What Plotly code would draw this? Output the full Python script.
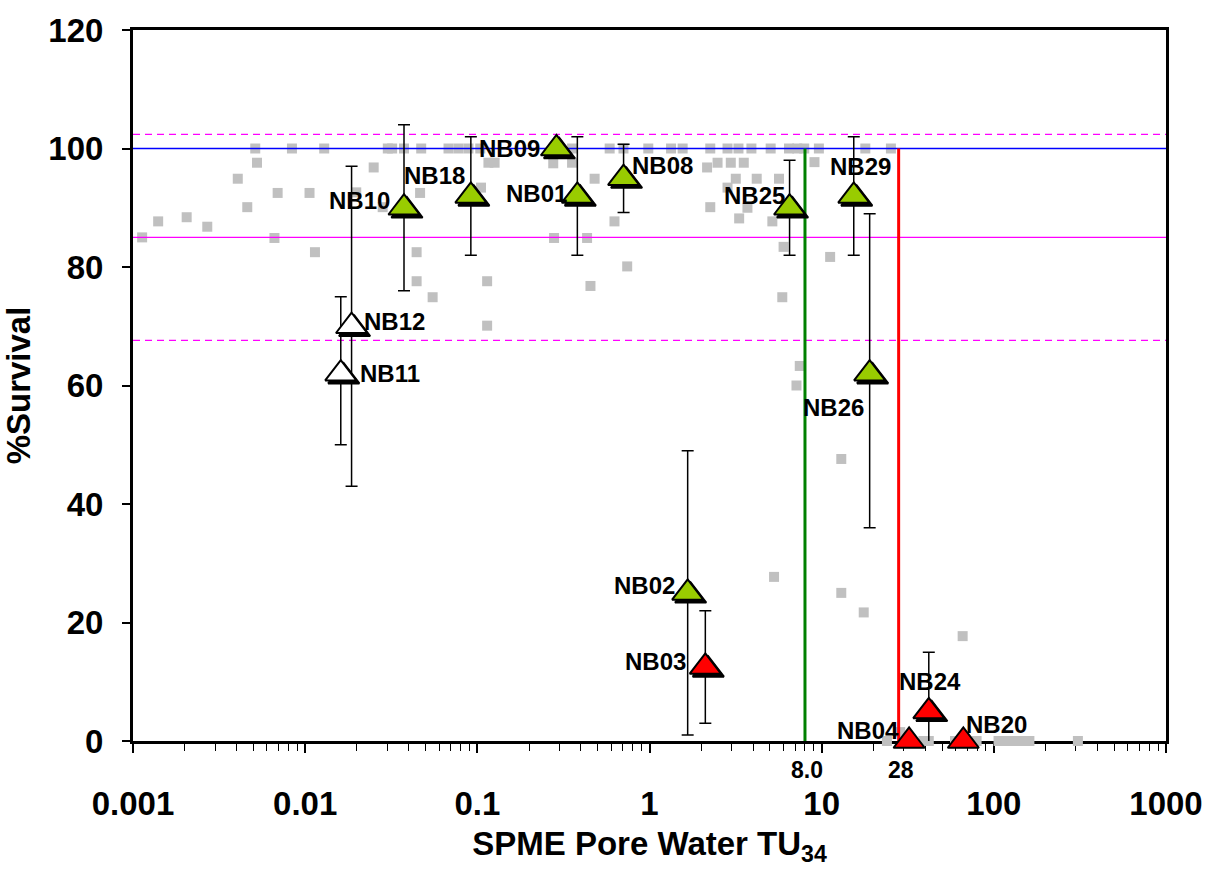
import numpy as np
import plotly.graph_objects as go

# ---------------- data ----------------
gray_x = [0.00113, 0.0014, 0.00205, 0.0027, 0.00406, 0.00461, 0.00513, 0.00525, 0.00692, 0.00663,
          0.00838, 0.0106, 0.0114, 0.0129, 0.0198, 0.0250, 0.0282, 0.0302, 0.0320, 0.0375,
          0.0472, 0.0465, 0.0444, 0.0444, 0.055, 0.068, 0.0777, 0.0888, 0.104, 0.105,
          0.114, 0.114, 0.116, 0.126, 0.279, 0.434, 0.454, 0.48, 0.626, 0.742,
          0.276, 0.355, 0.355, 0.587, 0.706, 0.984, 1.334, 1.558, 2.254, 2.839,
          3.287, 3.908, 5.055, 6.459, 7.215, 7.921, 9.634, 17.93, 25.25, 2.16,
          2.485, 2.966, 3.528, 3.171, 4.195, 5.653, 2.839, 2.254, 3.317, 3.706,
          5.171, 6.009, 5.906, 7.46, 7.14, 9.084, 11.2, 13.0, 5.29, 13.0,
          17.55, 65.9, 23.94, 28.6, 39.0, 41.9, 59.5, 79.4, 106.5, 118.5,
          131.8, 146.6, 160.9, 307.8]
gray_y = [85, 87.7, 88.4, 86.8, 94.9, 90.1, 100, 97.6, 92.5, 84.9,
          100, 92.5, 82.5, 100, 92.6, 96.8, 90.1, 100, 100, 100,
          100, 92.5, 82.5, 77.6, 74.9, 100, 100, 100, 100, 93.4,
          77.6, 70.1, 97.6, 97.6, 84.9, 84.9, 76.8, 94.9, 87.7, 80.1,
          97.5, 97.6, 100, 100, 100, 100, 100, 100, 100, 100,
          100, 100, 100, 100, 100, 100, 100, 100, 100, 96.8,
          97.6, 97.6, 97.6, 94.9, 94.9, 94.9, 93.4, 90.1, 88.2, 90,
          87.7, 83.4, 74.9, 63.3, 60.0, 97.7, 81.7, 47.6, 27.7, 25.0,
          21.7, 17.7, 0, 1.5, 0, 0, 0, 0, 0, 0,
          0, 0, 0, 0]

site_names = ["NB10", "NB18", "NB09", "NB01", "NB08", "NB25", "NB29", "NB26", "NB02",
              "NB11", "NB12",
              "NB03", "NB24", "NB04", "NB20"]
site_x = [0.0375, 0.0917, 0.288, 0.381, 0.707, 6.51, 15.36, 19.0, 1.666,
          0.0161, 0.0186,
          2.11, 41.9, 32.2, 66.5]
site_y = [90, 92, 100, 92, 95, 90, 92, 62, 25,
          62, 70,
          12.5, 5, 0, 0]
err_plus = [14, 10, 0, 10, 5.7, 8, 10, 27, 24,
            13, 27,
            9.5, 10, 0, 0]
err_minus = [14, 10, 0, 10, 5.8, 8, 10, 26, 24,
             12, 27,
             9.5, 10, 0, 0]
site_group = ["pass"] * 9 + ["open"] * 2 + ["fail"] * 4

ref_survival = 100
control_mean = 85
control_upper = 102.4
control_lower = 67.6
threshold_low = 8.0
threshold_high = 28
threshold_labels = ["8.0", "28"]

x_tick_vals = [0.001, 0.01, 0.1, 1, 10, 100, 1000]
x_tick_text = ["0.001", "0.01", "0.1", "1", "10", "100", "1000"]
y_tick_vals = [0, 20, 40, 60, 80, 100, 120]

# ---------------- styles ----------------
FONT = "Liberation Sans, Arial, sans-serif"
group_fill = {"pass": "#99CC00", "open": "#FFFFFF", "fail": "#FF0000"}
label_pos = {  # xanchor, xshift, yshift (pixels)
    "NB10": ("right", -12, 7), "NB18": ("right", -4, 20), "NB09": ("right", -14, 0),
    "NB01": ("right", -8, 2), "NB08": ("left", 6, 13), "NB25": ("right", -3, 12),
    "NB29": ("center", 7, 29), "NB26": ("right", -4, -34), "NB02": ("right", -11, 7),
    "NB11": ("left", 17, 0), "NB12": ("left", 10, 5), "NB03": ("right", -17, 5),
    "NB24": ("center", 1, 30), "NB04": ("right", -8, 11), "NB20": ("left", 1, 17),
}

W, H = 1215, 869
ML, MR, MT, MB = 133, 45, 29, 128
x_range = [-3, 3]
y_range = [0, 120]
px_per_dec = (W - ML - MR) / (x_range[1] - x_range[0])
px_per_unit = (H - MT - MB) / (y_range[1] - y_range[0])
shadow_px = 3
sx = shadow_px / px_per_dec
sy = shadow_px / px_per_unit
MSIZE = 27

fig = go.Figure()

# gray background points
fig.add_trace(go.Scatter(x=gray_x, y=gray_y, mode="markers", cliponaxis=False,
                         marker=dict(symbol="square", size=10, color="#C0C0C0"),
                         showlegend=False, hoverinfo="skip"))

# horizontal reference lines
def hline(yv, color, dash):
    fig.add_trace(go.Scatter(x=[x_tick_vals[0], x_tick_vals[-1]], y=[yv, yv], mode="lines",
                             line=dict(color=color, width=1.3, dash=dash),
                             showlegend=False, hoverinfo="skip"))

hline(control_upper, "#FF00FF", "7px,5px")
hline(control_lower, "#FF00FF", "7px,5px")
hline(control_mean, "#FF00FF", "solid")
hline(ref_survival, "#0000FF", "solid")

# vertical thresholds
for xv, col in [(threshold_low, "#008000"), (threshold_high, "#FF0000")]:
    fig.add_trace(go.Scatter(x=[xv, xv], y=[0, ref_survival], mode="lines",
                             line=dict(color=col, width=3),
                             showlegend=False, hoverinfo="skip"))

# shadows (overlay axes shifted by a few pixels)
fig.add_trace(go.Scatter(x=site_x, y=site_y, mode="markers", cliponaxis=False,
                         xaxis="x2", yaxis="y2",
                         marker=dict(symbol="triangle-up", size=MSIZE, color="black",
                                     line=dict(color="black", width=2)),
                         showlegend=False, hoverinfo="skip"))

# site markers with error bars
for grp in ["pass", "open", "fail"]:
    idx = [i for i, g in enumerate(site_group) if g == grp]
    fig.add_trace(go.Scatter(
        x=[site_x[i] for i in idx], y=[site_y[i] for i in idx],
        mode="markers", cliponaxis=False, xaxis="x3", yaxis="y3",
        marker=dict(symbol="triangle-up", size=MSIZE, color=group_fill[grp],
                    line=dict(color="black", width=2)),
        error_y=dict(type="data", symmetric=False,
                     array=[err_plus[i] for i in idx],
                     arrayminus=[err_minus[i] for i in idx],
                     color="black", thickness=1.5, width=6),
        showlegend=False, hoverinfo="skip"))

# site labels
annotations = []
for name, xv, yv in zip(site_names, site_x, site_y):
    xa, xs, ys = label_pos[name]
    annotations.append(dict(x=np.log10(xv), y=yv, xref="x", yref="y", text=name,
                            showarrow=False, xanchor=xa, yanchor="middle",
                            xshift=xs, yshift=ys,
                            font=dict(family=FONT, size=24, color="black", weight="bold")))
for xv, txt in zip([threshold_low, threshold_high], threshold_labels):
    annotations.append(dict(x=np.log10(xv), y=0, xref="x", yref="paper", text=txt,
                            showarrow=False, xanchor="center", yanchor="middle",
                            xshift=2, yshift=-29,
                            font=dict(family=FONT, size=23, color="black", weight="bold")))

tickfont = dict(family=FONT, size=33, color="black", weight="bold")
titlefont = dict(family=FONT, size=33, color="black", weight="bold")

fig.update_layout(
    width=W, height=H,
    margin=dict(l=ML, r=MR, t=MT, b=MB),
    paper_bgcolor="white", plot_bgcolor="white",
    showlegend=False,
    annotations=annotations,
    xaxis=dict(type="log", range=x_range, tickvals=x_tick_vals, ticktext=x_tick_text,
               ticks="outside", ticklen=9, tickwidth=1.5, tickcolor="black",
               minor=dict(ticks="outside", ticklen=7, tickwidth=1, tickcolor="black",
                          dtick="D1", showgrid=False),
               showline=True, linewidth=3, linecolor="black", mirror=True,
               showgrid=False, zeroline=False, tickfont=tickfont,
               ticklabelstandoff=22, layer="below traces",
               title=dict(text="SPME Pore Water TU<sub>34</sub>", font=titlefont, standoff=12)),
    yaxis=dict(range=y_range, tickvals=y_tick_vals,
               ticks="outside", ticklen=8, tickwidth=1.5, tickcolor="black",
               showline=True, linewidth=3, linecolor="black", mirror=True,
               showgrid=False, zeroline=False, tickfont=tickfont,
               ticklabelstandoff=12, layer="below traces",
               title=dict(text="%Survival", font=titlefont, standoff=10)),
    xaxis2=dict(type="log", range=[x_range[0] - sx, x_range[1] - sx], overlaying="x",
                visible=False, showgrid=False, zeroline=False),
    yaxis2=dict(range=[y_range[0] + sy, y_range[1] + sy], overlaying="y",
                visible=False, showgrid=False, zeroline=False),
    xaxis3=dict(type="log", range=x_range, overlaying="x",
                visible=False, showgrid=False, zeroline=False),
    yaxis3=dict(range=y_range, overlaying="y",
                visible=False, showgrid=False, zeroline=False),
)

fig.write_html("out.html")
